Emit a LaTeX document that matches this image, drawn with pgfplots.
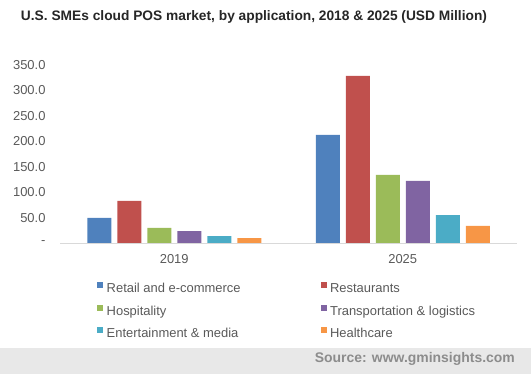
\documentclass[border=0pt]{standalone}
\usepackage{pgfplots}
\pgfplotsset{compat=1.18}
\usepackage{fontspec}
\setmainfont{Liberation Sans}
\definecolor{cblue}{HTML}{4F81BD}
\definecolor{cred}{HTML}{C0504D}
\definecolor{cgreen}{HTML}{9BBB59}
\definecolor{cpurple}{HTML}{8064A2}
\definecolor{cteal}{HTML}{4BACC6}
\definecolor{corange}{HTML}{F79646}
\definecolor{tickgray}{HTML}{595959}
\definecolor{axgray}{HTML}{D9D9D9}
\definecolor{band}{HTML}{E8E8E8}
\definecolor{srcgray}{HTML}{8C8C8C}
\begin{document}
\begin{tikzpicture}
\path[use as bounding box] (0,0) rectangle (531bp,374bp);
\fill[band] (0,0) rectangle (531bp,26bp);
\node[anchor=east, font=\fontsize{14}{16}\selectfont\bfseries, text=srcgray, inner sep=0pt] at (515bp,15bp) {Source: www.gminsights.com};
\node[font=\fontsize{13.8}{16}\selectfont\bfseries, text=black!85, inner sep=0pt] at (254bp,357bp) {U.S. SMEs cloud POS market, by application, 2018 \& 2025 (USD Million)};
\begin{axis}[
  at={(60bp,131bp)}, anchor=south west,
  scale only axis, width=457bp, height=178bp,
  xmin=-0.5, xmax=1.5, ymin=0, ymax=350,
  ybar=6bp, bar width=24bp,
  axis x line*=bottom, axis y line*=left,
  x axis line style={draw=axgray, line width=0.8pt, -},
  y axis line style={draw=none},
  xtick={0,1}, xticklabels={2019,2025},
  ytick={0,50,...,350},
  yticklabels={-\hspace{5bp},50.0,100.0,150.0,200.0,250.0,300.0,350.0},
  major tick length=0pt,
  tick style={draw=none},
  ticklabel style={font=\fontsize{13}{15}\selectfont, text=tickgray},
  yticklabel style={xshift=-11bp},
  xticklabel style={yshift=-8bp},
  legend columns=2,
  legend cell align=left,
  legend image code/.code={\fill[#1] (0bp,1.5bp) rectangle (6bp,7.5bp);},
  legend style={at={(axis description cs:0.081,-0.218)}, anchor=north west,
    draw=none, fill=none, inner sep=0pt, row sep=8.5bp, column sep=3.5bp,
    font=\fontsize{13}{15}\selectfont, text=tickgray,
    nodes={inner sep=0pt, text height=9.5bp, text depth=3.5bp},
    /tikz/every even column/.append style={column sep=80bp}},
]
\addplot[fill=cblue, draw=none] coordinates {(0,49.3) (1,212.5)};
\addplot[fill=cred, draw=none] coordinates {(0,82.6) (1,328.5)};
\addplot[fill=cgreen, draw=none] coordinates {(0,29.5) (1,134.0)};
\addplot[fill=cpurple, draw=none] coordinates {(0,23.5) (1,122.0)};
\addplot[fill=cteal, draw=none] coordinates {(0,13.7) (1,55.0)};
\addplot[fill=corange, draw=none] coordinates {(0,9.8) (1,33.6)};
\legend{Retail and e-commerce, Restaurants, Hospitality, Transportation \& logistics, Entertainment \& media, Healthcare}
\end{axis}
\end{tikzpicture}
\end{document}
